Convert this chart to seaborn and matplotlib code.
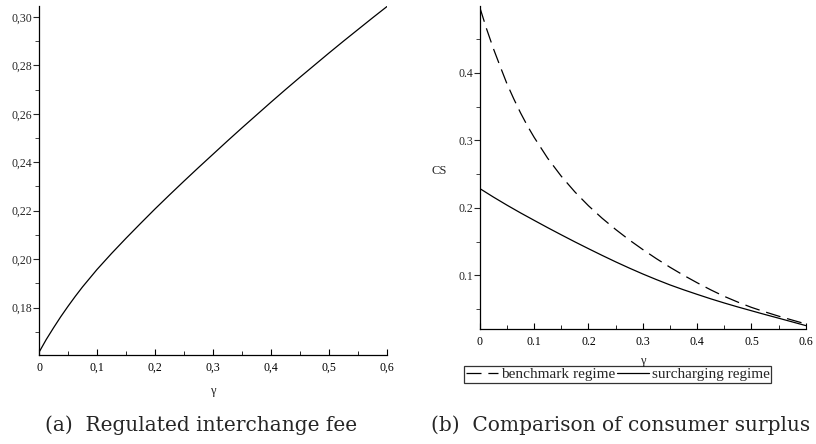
import pandas as pd
import seaborn as sns
import matplotlib.pyplot as plt
from matplotlib.ticker import MultipleLocator, FixedLocator

# (a) regulated interchange fee
gamma_a = [0.0, 0.0125, 0.025, 0.0375, 0.05, 0.0625, 0.075, 0.0875, 0.1, 0.125,
           0.15, 0.175, 0.2, 0.225, 0.25, 0.275, 0.3, 0.325, 0.35, 0.375, 0.4,
           0.425, 0.45, 0.475, 0.5, 0.525, 0.55, 0.575, 0.6]
fee = [0.1615, 0.1668, 0.1716, 0.1762, 0.1805, 0.1846, 0.1885, 0.1921, 0.1957,
       0.2023, 0.2086, 0.2147, 0.2207, 0.2265, 0.2322, 0.2378, 0.2433, 0.2488,
       0.2542, 0.2595, 0.2648, 0.2700, 0.2751, 0.2801, 0.2851, 0.2900, 0.2948,
       0.2996, 0.3043]

# (b) consumer surplus
gamma_bench = [0.0, 0.0125, 0.025, 0.0375, 0.05, 0.0625, 0.075, 0.0875, 0.1,
               0.125, 0.15, 0.175, 0.2, 0.225, 0.25, 0.275, 0.3, 0.325, 0.35,
               0.375, 0.4, 0.425, 0.45, 0.475, 0.5, 0.525, 0.55, 0.575, 0.6]
cs_benchmark = [0.497, 0.4651, 0.436, 0.4096, 0.3838, 0.3615, 0.3407, 0.3217,
                0.3045, 0.2734, 0.2468, 0.2236, 0.2031, 0.1847, 0.1680, 0.1525,
                0.1382, 0.1247, 0.1120, 0.1001, 0.0890, 0.0785, 0.0688, 0.0603,
                0.0525, 0.0458, 0.0395, 0.0337, 0.0280]

gamma_surch = [0.0, 0.025, 0.05, 0.075, 0.1, 0.125, 0.15, 0.175, 0.2, 0.225,
               0.25, 0.275, 0.3, 0.325, 0.35, 0.375, 0.4, 0.425, 0.45, 0.475,
               0.5, 0.525, 0.55, 0.575, 0.6]
cs_surcharging = [0.2286, 0.2160, 0.2040, 0.1925, 0.1815, 0.1706, 0.1600, 0.1496,
                  0.1395, 0.1296, 0.1200, 0.1108, 0.1020, 0.0937, 0.0858, 0.0786,
                  0.0718, 0.0652, 0.0590, 0.0531, 0.0475, 0.0419, 0.0365, 0.0310,
                  0.0255]

x_ticks = [0, 0.1, 0.2, 0.3, 0.4, 0.5, 0.6]
left_yticks = [0.18, 0.20, 0.22, 0.24, 0.26, 0.28, 0.30]
right_yticks = [0.1, 0.2, 0.3, 0.4]

sns.set_style("ticks")
plt.rcParams['font.family'] = ['Liberation Serif', 'DejaVu Serif']
plt.rcParams['axes.linewidth'] = 0.9

df_a = pd.DataFrame({"gamma": gamma_a, "fee": fee})
df_b = pd.DataFrame({
    "gamma": gamma_bench + gamma_surch,
    "CS": cs_benchmark + cs_surcharging,
    "regime": ["benchmark regime"] * len(gamma_bench)
              + ["surcharging regime"] * len(gamma_surch),
})

fig = plt.figure(figsize=(8.16, 4.44), dpi=100)
ax1 = fig.add_axes([0.0478, 0.2005, 0.4265, 0.786])
ax2 = fig.add_axes([0.588, 0.2583, 0.3995, 0.728])

# panel a
sns.lineplot(data=df_a, x="gamma", y="fee", ax=ax1, color="black", lw=0.9)
ax1.set_xlim(0, 0.6)
ax1.set_ylim(0.1604, 0.3045)
ax1.xaxis.set_major_locator(FixedLocator(x_ticks))
ax1.set_xticklabels([("%g" % t).replace(".", ",") for t in x_ticks])
ax1.yaxis.set_major_locator(FixedLocator(left_yticks))
ax1.set_yticklabels([("%.2f" % t).replace(".", ",") for t in left_yticks])
ax1.xaxis.set_minor_locator(MultipleLocator(0.05))
ax1.yaxis.set_minor_locator(MultipleLocator(0.01))
ax1.set_xlabel("γ", fontsize=9, labelpad=8)
ax1.set_ylabel("")

# panel b
sns.lineplot(data=df_b, x="gamma", y="CS", style="regime", ax=ax2, color="black",
             lw=0.9, dashes={"benchmark regime": (12, 5.5), "surcharging regime": ""})
ax2.set_xlim(0, 0.6)
ax2.set_ylim(0.02, 0.499)
ax2.xaxis.set_major_locator(FixedLocator(x_ticks))
ax2.set_xticklabels(["%g" % t for t in x_ticks])
ax2.yaxis.set_major_locator(FixedLocator(right_yticks))
ax2.set_yticklabels(["%g" % t for t in right_yticks])
ax2.xaxis.set_minor_locator(MultipleLocator(0.05))
ax2.yaxis.set_minor_locator(MultipleLocator(0.05))
ax2.set_xlabel("γ", fontsize=9)
ax2.xaxis.set_label_coords(0.5, -0.08)
ax2.set_ylabel("CS", fontsize=9, rotation=0)
ax2.yaxis.set_label_coords(-0.125, 0.47)

leg = ax2.legend(loc="upper left", bbox_to_anchor=(-0.049, -0.113), ncol=2,
                 frameon=True, fancybox=False, fontsize=11, handlelength=2.1,
                 handletextpad=0.2, columnspacing=0.1, borderpad=0.12,
                 borderaxespad=0)
leg.get_frame().set_edgecolor("black")
leg.get_frame().set_linewidth(0.9)

for ax in (ax1, ax2):
    sns.despine(ax=ax)
    ax.tick_params(axis="x", which="both", direction="in", labelsize=8.5, pad=5,
                   colors="black")
    ax.tick_params(axis="x", which="major", length=4)
    ax.tick_params(axis="x", which="minor", length=3)
    ax.tick_params(axis="y", which="both", direction="out", labelsize=8.5, pad=1)
    ax.tick_params(axis="y", which="major", length=4)
    ax.tick_params(axis="y", which="minor", length=3)
    for s in ax.spines.values():
        s.set_color("black")

fig.text(0.246, 0.03, "(a)  Regulated interchange fee", ha="center",
         fontsize=14.5, family=["DejaVu Serif"])
fig.text(0.7605, 0.03, "(b)  Comparison of consumer surplus", ha="center",
         fontsize=14.5, family=["DejaVu Serif"])

fig.savefig("out.png", dpi=100)
